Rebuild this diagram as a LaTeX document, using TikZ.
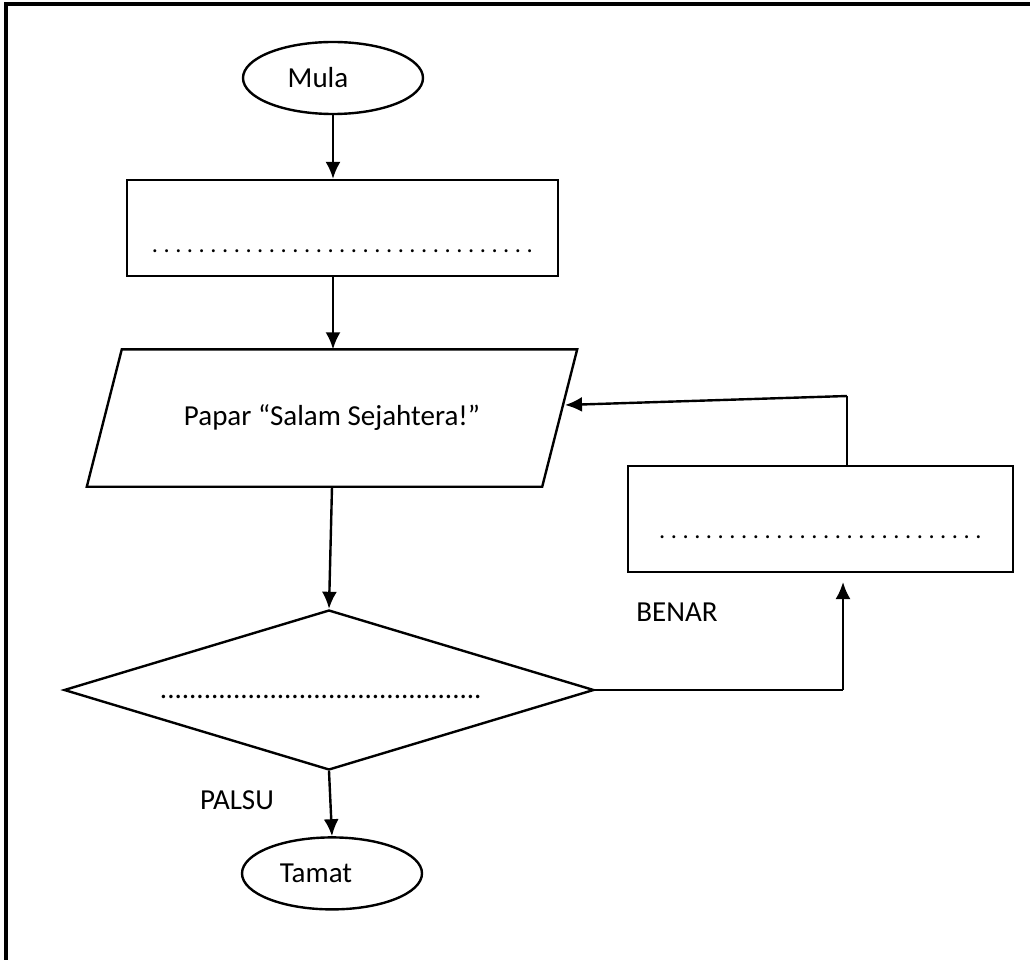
\documentclass[tikz,border=0pt]{standalone}
\usepackage{fontspec}
\setmainfont{Carlito}
\usetikzlibrary{shapes.geometric,arrows.meta,positioning}

\tikzset{
  every node/.style={font=\fontsize{29}{34}\selectfont},
  terminal/.style={ellipse,draw,line width=2.4pt,minimum width=180pt,minimum height=72pt,inner sep=0pt},
  process/.style={rectangle,draw,line width=2.2pt,inner sep=0pt},
  decision/.style={diamond,draw,line width=2.4pt,minimum width=530pt,minimum height=160pt,inner sep=0pt},
  blank/.style={font=\fontsize{24.5}{30}\selectfont\frenchspacing},
  flow/.style={-{Latex[length=17pt,width=15pt]},line width=2.4pt},
  wire/.style={line width=1.2pt}
}

\begin{document}
\begin{tikzpicture}[x=1pt,y=-1pt]
  \useasboundingbox (0,0) rectangle (1030,960);
  \clip (0,0) rectangle (1030,960);
  \draw[line width=3.2pt] (6,4) rectangle (1040,975);

  \node[terminal,label={[xshift=-15pt]center:Mula}] (mula) at (333,78) {};
  \node[process,minimum width=431pt,minimum height=96pt,
        label={[blank,yshift=-23pt]center:. . . . . . . . . . . . . . . . . . . . . . . . . . . . . . . . .}] (input) at (342.5,228) {};
  \node[minimum width=455pt,minimum height=137pt,inner sep=0pt] (papar) at (332,418) {Papar “Salam Sejahtera!”};
  \draw[line width=2.4pt] ([xshift=-17.5pt]papar.south west) -- ([xshift=-17.5pt]papar.south east)
    -- ([xshift=17.5pt]papar.north east) -- ([xshift=17.5pt]papar.north west) -- cycle;
  \node[decision,label={[xshift=-8pt,yshift=-7pt]center:............................................}] (syarat) at (329,690) {};
  \node[terminal,below=65pt of syarat,xshift=3pt,label={[xshift=-16pt]center:Tamat}] (tamat) {};
  \node[process,minimum width=385pt,minimum height=106pt,
        label={[blank,yshift=-18pt]center:. . . . . . . . . . . . . . . . . . . . . . . . . . . .}] (ulang) at (820.5,519) {};

  \node (palsu) at (237,800) {PALSU};
  \node (benar) at (677,612) {BENAR};

  \coordinate (naik) at (843,690);
  \coordinate (naikhujung) at (843,582);
  \coordinate (atas) at (847,396);
  \coordinate (masuk) at (565,405);

  \draw[flow] (mula) -- (mula |- input.north);
  \draw[flow] (mula |- input.south) -- (mula |- papar.north);
  \draw[flow] (papar.south) -- (syarat.north);
  \draw[flow] (syarat.south) -- (tamat.north);
  \draw[wire] (syarat.east) -- (naik);
  \draw[flow] (naik) -- (naikhujung);
  \draw[wire] (atas |- ulang.north) -- (atas);
  \draw[flow] (atas) -- (masuk);
\end{tikzpicture}
\end{document}
